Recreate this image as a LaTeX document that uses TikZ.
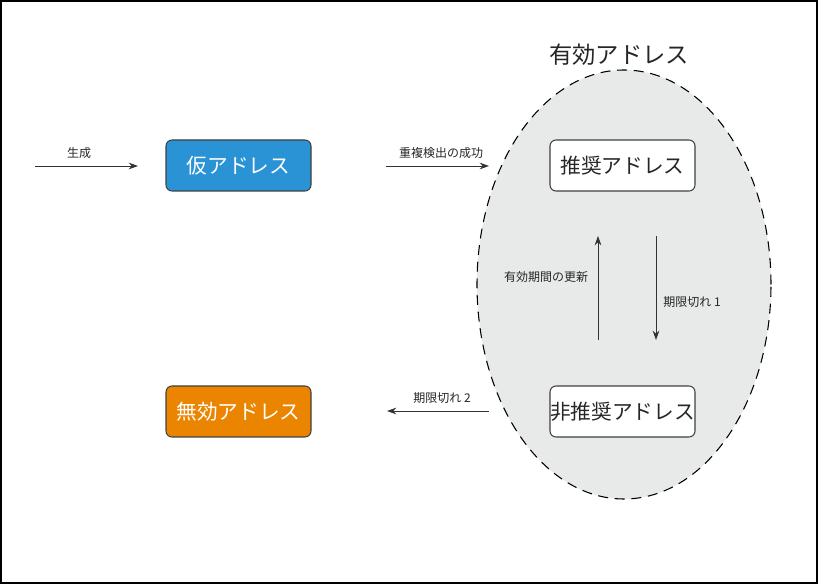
\documentclass[tikz,border=0pt]{standalone}
\usepackage{fontspec}
\setmainfont{Noto Sans CJK JP}
\usetikzlibrary{arrows.meta,shapes.geometric}
\definecolor{tmpblue}{HTML}{2A93D5}
\definecolor{badorange}{HTML}{EB8500}
\definecolor{validgray}{HTML}{E8E9E9}
\definecolor{arrowgray}{HTML}{333333}
\tikzset{
  addrbox/.style={draw=black!75, line width=0.8pt, rounded corners=4.5pt, minimum width=108.75pt, minimum height=38.25pt, inner sep=0pt, font=\fontsize{15.5}{18}\selectfont},
  trans/.style={draw=arrowgray, line width=0.7pt, -{Stealth[length=7pt,width=5pt]}},
  lbl/.style={font=\fontsize{9}{11}\selectfont, text=black!85, inner sep=1pt},
}
\begin{document}
\begin{tikzpicture}[x=0.75pt,y=-0.75pt]
\useasboundingbox (0,0) rectangle (818,584);
\draw[line width=1.2pt] (1,1) rectangle (817,583);
% valid addresses region
\node[ellipse, draw=black, fill=validgray, dash pattern=on 7.5pt off 5pt, line width=0.8pt, minimum width=220.5pt, minimum height=321.75pt, inner sep=0pt] (valid) at (624,284.5) {};
\node[font=\fontsize{17.5}{20}\selectfont, text=black!85] (validlbl) at (619,55) {有効アドレス};
% boxes
\node[addrbox, fill=tmpblue, text=white] (tmp) at (238.5,165.5) {仮アドレス};
\node[addrbox, fill=white, text=black!85] (pref) at (622.5,165.5) {推奨アドレス};
\node[addrbox, fill=badorange, text=white] (inv) at (238.5,411.5) {無効アドレス};
\node[addrbox, fill=white, text=black!85] (depr) at (622.5,411.5) {非推奨アドレス};
% free endpoints
\coordinate (genA) at (35,166);
\coordinate (genB) at (138,166);
\coordinate (dadA) at (386,166);
\coordinate (dadB) at (489,166);
\coordinate (upA) at (598,340);
\coordinate (upB) at (598,236);
\coordinate (dnA) at (656,236);
\coordinate (dnB) at (656,340);
\coordinate (exA) at (489,411);
\coordinate (exB) at (387,411);
% transitions
\draw[trans] (genA) -- (genB);
\node[lbl] (genL) at (79,153) {生成};
\draw[trans] (dadA) -- (dadB);
\node[lbl] (dadL) at (441,153) {重複検出の成功};
\draw[trans] (upA) -- (upB);
\node[lbl] (upL) at (546,277) {有効期間の更新};
\draw[trans] (dnA) -- (dnB);
\node[lbl] (dnL) at (692,302) {期限切れ 1};
\draw[trans] (exA) -- (exB);
\node[lbl] (exL) at (442,398) {期限切れ 2};
\end{tikzpicture}
\end{document}
